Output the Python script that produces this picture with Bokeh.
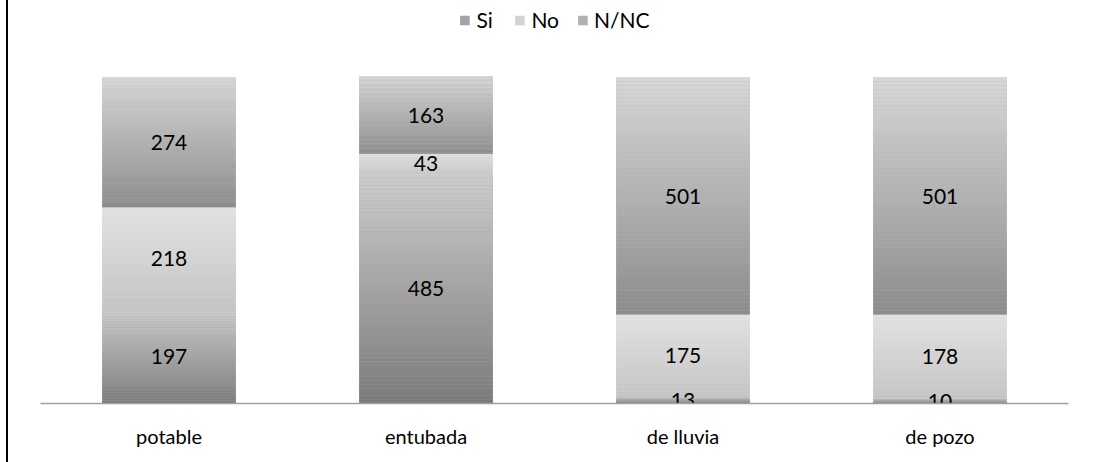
from bokeh.plotting import figure
from bokeh.models import FactorRange, Range1d, ColumnDataSource, Legend, LegendItem
from bokeh.core.properties import value
from bokeh.embed import file_html
from bokeh.resources import INLINE

categories = ["potable", "entubada", "de lluvia", "de pozo"]
series_names = ["Si", "No", "N/NC"]
si_values = [197, 485, 13, 10]
no_values = [218, 43, 175, 178]
nnc_values = [274, 163, 501, 501]

# gradient colours (top, bottom) per series
grad = {
    "Si": ((0xcd, 0xcd, 0xcd), (0x7b, 0x7b, 0x7b)),
    "No": ((0xe4, 0xe4, 0xe4), (0xc4, 0xc4, 0xc4)),
    "N/NC": ((0xd8, 0xd8, 0xd8), (0x8c, 0x8c, 0x8c)),
}

FONT = "Lato"
OFF = 8  # left page offset taken by the frame line
W, H = 1093 - OFF, 462

p = figure(width=W, height=H, output_backend="svg", toolbar_location=None,
           x_range=FactorRange(*categories, range_padding=0),
           y_range=Range1d(0, 837),
           min_border_left=40 - OFF, min_border_right=25, min_border_top=7, min_border_bottom=59)
p.styles = {"margin-left": "6px", "border-left": "2px solid #000000"}
p.outline_line_color = None
p.xgrid.visible = False
p.ygrid.visible = False
p.yaxis.visible = False
p.xaxis.axis_line_color = "#a0a0a0"
p.xaxis.axis_line_width = 1.5
p.xaxis.major_tick_line_color = None
p.xaxis.minor_tick_line_color = None
p.xaxis.major_label_text_font = FONT
p.xaxis.major_label_text_font_size = "20px"
p.xaxis.major_label_text_color = "#000000"
p.xaxis.major_label_standoff = 14

N = 60
all_vals = [si_values, no_values, nnc_values]
bottoms = [0] * len(categories)
label_x, label_y, label_t = [], [], []
legend_items = []
for name, vals in zip(series_names, all_vals):
    xs, bs, ts, cs = [], [], [], []
    ux, ub, ut = [], [], []
    (r0, g0, b0), (r1, g1, b1) = grad[name]
    for i, cat in enumerate(categories):
        b = bottoms[i]
        t = b + vals[i]
        ux.append(cat); ub.append(b); ut.append(t)
        for k in range(N):
            f = (k + 0.5) / N  # 0 at top, 1 at bottom
            sb = t - (k + 1) * (t - b) / N
            st = t - k * (t - b) / N
            col = "#%02x%02x%02x" % (int(r0 + (r1 - r0) * f), int(g0 + (g1 - g0) * f), int(b0 + (b1 - b0) * f))
            xs.append(cat); bs.append(sb); ts.append(st); cs.append(col)
        label_x.append(cat); label_y.append((b + t) / 2); label_t.append(str(vals[i]))
        bottoms[i] = t
    mid = "#%02x%02x%02x" % ((r0 + r1) // 2, (g0 + g1) // 2, (b0 + b1) // 2)
    p.vbar(x=ux, bottom=ub, top=ut, width=0.52, fill_color=mid, line_color=None)
    src = ColumnDataSource(dict(x=xs, bottom=bs, top=ts, color=cs))
    r = p.vbar(x="x", bottom="bottom", top="top", width=0.52, source=src,
               fill_color="color", line_color=None)
    legend_items.append(LegendItem(label=name, renderers=[r], index=N // 2))

p.text(x=label_x, y=label_y, text=label_t, text_align="center", text_baseline="middle",
       text_font=value(FONT), text_font_size="21px", text_color="#000000")

legend = Legend(items=legend_items, orientation="horizontal", location="top_center",
                label_text_font=FONT, label_text_font_size="21px", label_text_color="#000000",
                glyph_width=12, glyph_height=12, spacing=17, label_standoff=6,
                border_line_color=None, background_fill_alpha=0, padding=0, margin=0)
p.add_layout(legend, "center")

open("out.html", "w").write(file_html(p, INLINE))
